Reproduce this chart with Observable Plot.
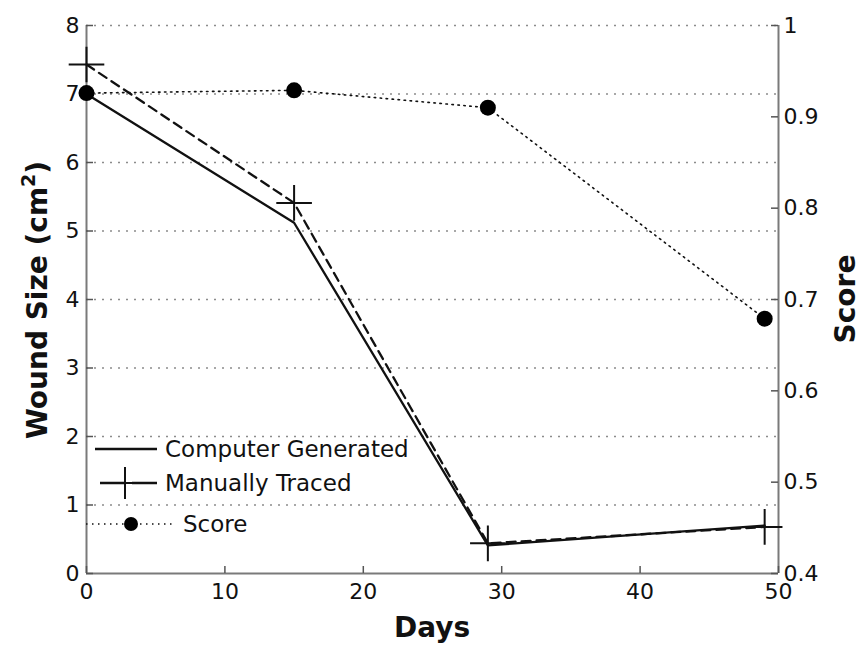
<!DOCTYPE html>
<html>
<head>
<meta charset="utf-8">
<script src="https://cdn.jsdelivr.net/npm/d3@7"></script>
<script src="https://cdn.jsdelivr.net/npm/@observablehq/plot@0.6"></script>
<style>
  html, body { margin: 0; padding: 0; background: #fff; }
  #chart { width: 862px; height: 647px; }
</style>
</head>
<body>
<div id="chart"></div>
<script>
// ---- data ----
const days = [0, 15, 29, 49];
const computerGenerated = [7.0, 5.12, 0.41, 0.70];
const manuallyTraced = [7.43, 5.41, 0.44, 0.68];
const score = [0.926, 0.929, 0.910, 0.679];

const dayTicks = [0, 10, 20, 30, 40, 50];
const woundTicks = [0, 1, 2, 3, 4, 5, 6, 7, 8];
const scoreTicks = [0.4, 0.5, 0.6, 0.7, 0.8, 0.9, 1.0];
const seriesNames = ["Computer Generated", "Manually Traced", "Score"];

// map right-axis (score) domain [0.4, 1] onto left-axis domain [0, 8]
const scoreDomain = [0.4, 1.0];
const woundDomain = [0, 8];
const toWound = s => (s - scoreDomain[0]) / (scoreDomain[1] - scoreDomain[0]) * (woundDomain[1] - woundDomain[0]) + woundDomain[0];
const fromWound = w => (w - woundDomain[0]) / (woundDomain[1] - woundDomain[0]) * (scoreDomain[1] - scoreDomain[0]) + scoreDomain[0];
const scoreTickPos = scoreTicks.map(toWound);
const fmtScore = d3.format(".1~f");
const fmtInt = d3.format("d");

const FONT = "DejaVu Sans, sans-serif";
const INK = "#111";
const AXIS = "#7a7a7a";

const W = 862, H = 647, ML = 86, MR = 84, MT = 25, MB = 74;
const plotW = W - ML - MR, plotH = H - MT - MB, TICK = 7;

const chart = Plot.plot({
  width: W,
  height: H,
  marginLeft: ML,
  marginRight: MR,
  marginTop: MT,
  marginBottom: MB,
  style: {fontFamily: FONT, fontSize: "22px", color: INK, background: "#fff", overflow: "visible"},
  x: {domain: [0, 50]},
  y: {domain: woundDomain},
  marks: [
    Plot.gridY(woundTicks.slice(1), {stroke: "#8c8c8c", strokeOpacity: 1, strokeWidth: 1.5, strokeDasharray: "2,6"}),
    // frame (left, right, bottom)
    Plot.ruleX([0, 50], {stroke: AXIS, strokeWidth: 2}),
    Plot.ruleY([0], {stroke: AXIS, strokeWidth: 2}),
    // inside tick marks
    Plot.tickX(dayTicks, {x: d => d, insetTop: plotH - TICK, stroke: "#555", strokeWidth: 1.5}),
    Plot.tickY(woundTicks, {y: d => d, insetRight: plotW - TICK, stroke: "#555", strokeWidth: 1.5}),
    Plot.tickY(scoreTickPos, {y: d => d, insetLeft: plotW - TICK, stroke: "#555", strokeWidth: 1.5}),
    // tick labels
    Plot.axisX(dayTicks, {tickSize: 0, tickPadding: 10, label: null, fill: INK, tickFormat: fmtInt}),
    Plot.axisY(woundTicks, {anchor: "left", tickSize: 0, tickPadding: 7, label: null, fill: INK, tickFormat: fmtInt}),
    Plot.axisY(scoreTickPos, {anchor: "right", tickSize: 0, tickPadding: 5, label: null, fill: INK,
      tickFormat: w => fmtScore(fromWound(w))}),
    // series
    Plot.line(computerGenerated, {x: (d, i) => days[i], y: d => d, stroke: INK, strokeWidth: 2.3}),
    Plot.line(manuallyTraced, {x: (d, i) => days[i], y: d => d, stroke: INK, strokeWidth: 2.3, strokeDasharray: "9,6"}),
    Plot.dot(manuallyTraced, {x: (d, i) => days[i], y: d => d, symbol: "plus", r: 11.5, stroke: INK, strokeWidth: 2}),
    Plot.line(score, {x: (d, i) => days[i], y: d => toWound(d), stroke: INK, strokeWidth: 1.6, strokeDasharray: "1.5,4.5"}),
    Plot.dot(score, {x: (d, i) => days[i], y: d => toWound(d), r: 8, fill: "#000", stroke: "none"})
  ]
});

document.getElementById("chart").appendChild(chart);

// ---- titles and legend ----
const svg = d3.select(chart);
const g = svg.append("g").attr("font-family", FONT).attr("fill", INK).attr("text-anchor", "start");

// x title
g.append("text").attr("x", 432).attr("y", 637).attr("text-anchor", "middle")
  .attr("font-size", 28).attr("font-weight", "bold").text("Days");

// left y title with superscript
const yt = g.append("text").attr("transform", "translate(47,300) rotate(-90)")
  .attr("text-anchor", "middle").attr("font-size", 28).attr("font-weight", "bold");
yt.append("tspan").text("Wound Size (cm");
yt.append("tspan").attr("font-size", 19).attr("dy", -12).text("2");
yt.append("tspan").attr("dy", 12).text(")");

// right y title
g.append("text").attr("transform", "translate(855,299) rotate(-90)")
  .attr("text-anchor", "middle").attr("font-size", 28).attr("font-weight", "bold").text("Score");

// legend
const lg = g.append("g").attr("font-size", 23).attr("text-anchor", "start");
// row 1: solid
lg.append("line").attr("x1", 95).attr("x2", 157).attr("y1", 449).attr("y2", 449)
  .attr("stroke", INK).attr("stroke-width", 2.3);
lg.append("text").attr("x", 165).attr("y", 449).attr("dy", "0.36em").text(seriesNames[0]);
// row 2: dashed with plus
lg.append("line").attr("x1", 100).attr("x2", 157).attr("y1", 483).attr("y2", 483)
  .attr("stroke", INK).attr("stroke-width", 2.3).attr("stroke-dasharray", "26,6");
lg.append("path").attr("d", "M109,483H141M125,467V499").attr("stroke", INK).attr("stroke-width", 2).attr("fill", "none");
lg.append("text").attr("x", 165).attr("y", 483).attr("dy", "0.36em").text(seriesNames[1]);
// row 3: dotted with dot
lg.append("line").attr("x1", 86).attr("x2", 172).attr("y1", 524).attr("y2", 524)
  .attr("stroke", INK).attr("stroke-width", 1.6).attr("stroke-dasharray", "1.5,4.5");
lg.append("circle").attr("cx", 131).attr("cy", 524).attr("r", 7).attr("fill", "#000");
lg.append("text").attr("x", 183).attr("y", 524).attr("dy", "0.36em").text(seriesNames[2]);
</script>
</body>
</html>
